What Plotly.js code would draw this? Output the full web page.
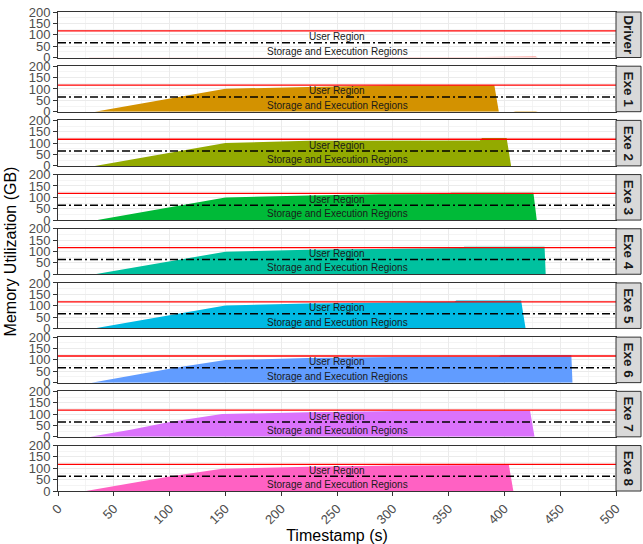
<!DOCTYPE html>
<html>
<head>
<meta charset="utf-8">
<script src="https://cdn.plot.ly/plotly-3.0.1.min.js"></script>
<style>html,body{margin:0;padding:0;background:#fff;}#chart{width:643px;height:544px;}</style>
</head>
<body>
<div id="chart"></div>
<script>
// ---- data ----
const panelNames = ['Driver', 'Exe 1', 'Exe 2', 'Exe 3', 'Exe 4', 'Exe 5', 'Exe 6', 'Exe 7', 'Exe 8'];
const panelColors = ['#F8766D', '#D39200', '#93AA00', '#00BA38', '#00C19F', '#00B9E3', '#619CFF', '#DB72FB', '#FF61C3'];

const driverX = [28, 60, 100, 200, 300, 380, 405, 418, 428, 430];
const driverY = [1, 1.5, 1.5, 2, 2, 2, 2.5, 4, 4, 0];
const exe1X = [33, 70, 105, 150, 224, 260, 290, 300, 391, 395, 408, 410, 428, 430];
const exe1Y = [0, 32, 64, 101, 108, 111, 113, 116, 116, 0, 0, 2, 2, 0];
const exe2X = [33, 70, 105, 150, 224, 300, 378, 380, 402, 406];
const exe2Y = [0, 32, 64, 101, 110, 111, 112, 123, 123, 0];
const exe3X = [35, 70, 105, 150, 224, 288, 350, 352, 426, 429];
const exe3Y = [0, 30, 62, 99, 108, 114, 115, 120, 120, 0];
const exe4X = [33, 70, 105, 150, 224, 307, 362, 364, 436, 437];
const exe4Y = [0, 31, 63, 99, 108, 114, 115, 121, 121, 0];
const exe5X = [32, 70, 105, 150, 224, 303, 355, 357, 415, 419];
const exe5Y = [0, 33, 65, 101, 110, 116, 117, 123, 123, 0];
const exe6X = [30, 70, 105, 150, 224, 320, 395, 397, 460, 461];
const exe6Y = [0, 34, 65, 99, 108, 114, 115, 122, 122, 0];
const exe7X = [29, 65, 100, 140, 147, 224, 303, 423, 427];
const exe7Y = [0, 31, 65, 93, 100, 108, 113, 115, 0];
const exe8X = [25, 60, 100, 147, 224, 303, 404, 408];
const exe8Y = [0, 30, 64, 98, 107, 112, 114, 0];

const seriesX = [driverX, exe1X, exe2X, exe3X, exe4X, exe5X, exe6X, exe7X, exe8X];
const seriesY = [driverY, exe1Y, exe2Y, exe3Y, exe4Y, exe5Y, exe6Y, exe7Y, exe8Y];

const userLimit = 117;      // red line
const storageLimit = 65;    // dot-dash line
const regionLabels = ['User Region', 'Storage and Execution Regions'];
const regionLabelX = 250;
const regionLabelY = [91, 28];

const xTicks = [0, 50, 100, 150, 200, 250, 300, 350, 400, 450, 500];
const yTicks = [0, 50, 100, 150, 200];
const xTitle = 'Timestamp (s)';
const yTitle = 'Memory Utilization (GB)';

// ---- layout geometry ----
const W = 643, H = 544;
const M = {l: 58, r: 2, t: 12, b: 53};
const pw = W - M.l - M.r, ph = H - M.t - M.b;
const plotRight = 558 / pw;         // panel area right edge (paper)
const stripRight = 1;
const panelH = 45.5 / ph, pitch = 54.19 / ph;

const FONT = 'Liberation Sans, Arial, sans-serif';
const traces = [];
const layout = {
  width: W, height: H,
  margin: M,
  paper_bgcolor: '#ffffff', plot_bgcolor: '#ffffff',
  showlegend: false,
  font: {family: FONT, color: '#000'},
  shapes: [], annotations: []
};

panelNames.forEach((name, i) => {
  const n = i + 1;
  const xa = n === 1 ? 'x' : 'x' + n;
  const ya = n === 1 ? 'y' : 'y' + n;
  const xk = n === 1 ? 'xaxis' : 'xaxis' + n;
  const yk = n === 1 ? 'yaxis' : 'yaxis' + n;
  const top = 1 - i * pitch;
  const bot = top - panelH;
  const isBottom = i === panelNames.length - 1;

  traces.push({
    type: 'scatter', mode: 'lines', x: seriesX[i], y: seriesY[i],
    xaxis: xa, yaxis: ya, fill: 'tozeroy', fillcolor: panelColors[i],
    line: {width: 0, color: panelColors[i]}, hoverinfo: 'skip'
  });

  layout[xk] = {
    domain: [0, plotRight], anchor: ya, range: [0, 500],
    tickvals: xTicks, ticktext: xTicks.map(String),
    showticklabels: isBottom, ticks: isBottom ? 'outside' : '', ticklen: 4, tickcolor: '#333333',
    tickangle: -45, tickfont: {size: 13, color: '#4D4D4D', family: FONT},
    showgrid: true, gridcolor: '#EBEBEB', gridwidth: 1,
    minor: {dtick: 25, showgrid: true, gridcolor: '#EFEFEF', gridwidth: 0.7},
    showline: true, mirror: true, linecolor: '#333333', linewidth: 1,
    zeroline: false, fixedrange: true
  };
  if (n > 1) layout[xk].matches = 'x';
  if (isBottom) layout[xk].title = {text: xTitle, font: {size: 16, color: '#000'}, standoff: 2};

  layout[yk] = {
    domain: [bot, top], anchor: xa, range: [0, 200],
    tickvals: yTicks, ticktext: yTicks.map(String),
    ticks: 'outside', ticklen: 4, tickcolor: '#333333',
    tickfont: {size: 13, color: '#4D4D4D', family: FONT},
    showgrid: true, gridcolor: '#EBEBEB', gridwidth: 1,
    minor: {dtick: 25, showgrid: true, gridcolor: '#EFEFEF', gridwidth: 0.7},
    showline: true, mirror: true, linecolor: '#333333', linewidth: 1,
    zeroline: false, fixedrange: true
  };
  if (i === 4) layout[yk].title = {text: yTitle, font: {size: 16, color: '#000'}, standoff: 8};

  // limit lines
  layout.shapes.push({
    type: 'line', xref: xa + ' domain', yref: ya, x0: 0, x1: 1, y0: userLimit, y1: userLimit,
    line: {color: '#FF0000', width: 1.3}, layer: 'above'
  });
  layout.shapes.push({
    type: 'line', xref: xa + ' domain', yref: ya, x0: 0, x1: 1, y0: storageLimit, y1: storageLimit,
    line: {color: '#000000', width: 1.5, dash: '8px,3px,2px,3px'}, layer: 'above'
  });
  // strip
  layout.shapes.push({
    type: 'rect', xref: 'paper', yref: 'paper', x0: plotRight, x1: stripRight, y0: bot, y1: top,
    fillcolor: '#D9D9D9', line: {color: '#333333', width: 1}, layer: 'above'
  });
  layout.annotations.push({
    xref: 'paper', yref: 'paper', x: (plotRight + stripRight) / 2, y: (top + bot) / 2,
    text: '<b>' + name + '</b>', showarrow: false, textangle: 90,
    font: {size: 13.5, color: '#1A1A1A', family: FONT}, xanchor: 'center', yanchor: 'middle'
  });
  // region labels
  regionLabels.forEach((lab, k) => {
    layout.annotations.push({
      xref: xa, yref: ya, x: regionLabelX, y: regionLabelY[k], text: lab, showarrow: false,
      font: {size: 10, color: '#1A1A1A', family: FONT}, xanchor: 'center', yanchor: 'middle'
    });
  });
});

Plotly.newPlot('chart', traces, layout, {displayModeBar: false, staticPlot: true});
</script>
</body>
</html>
